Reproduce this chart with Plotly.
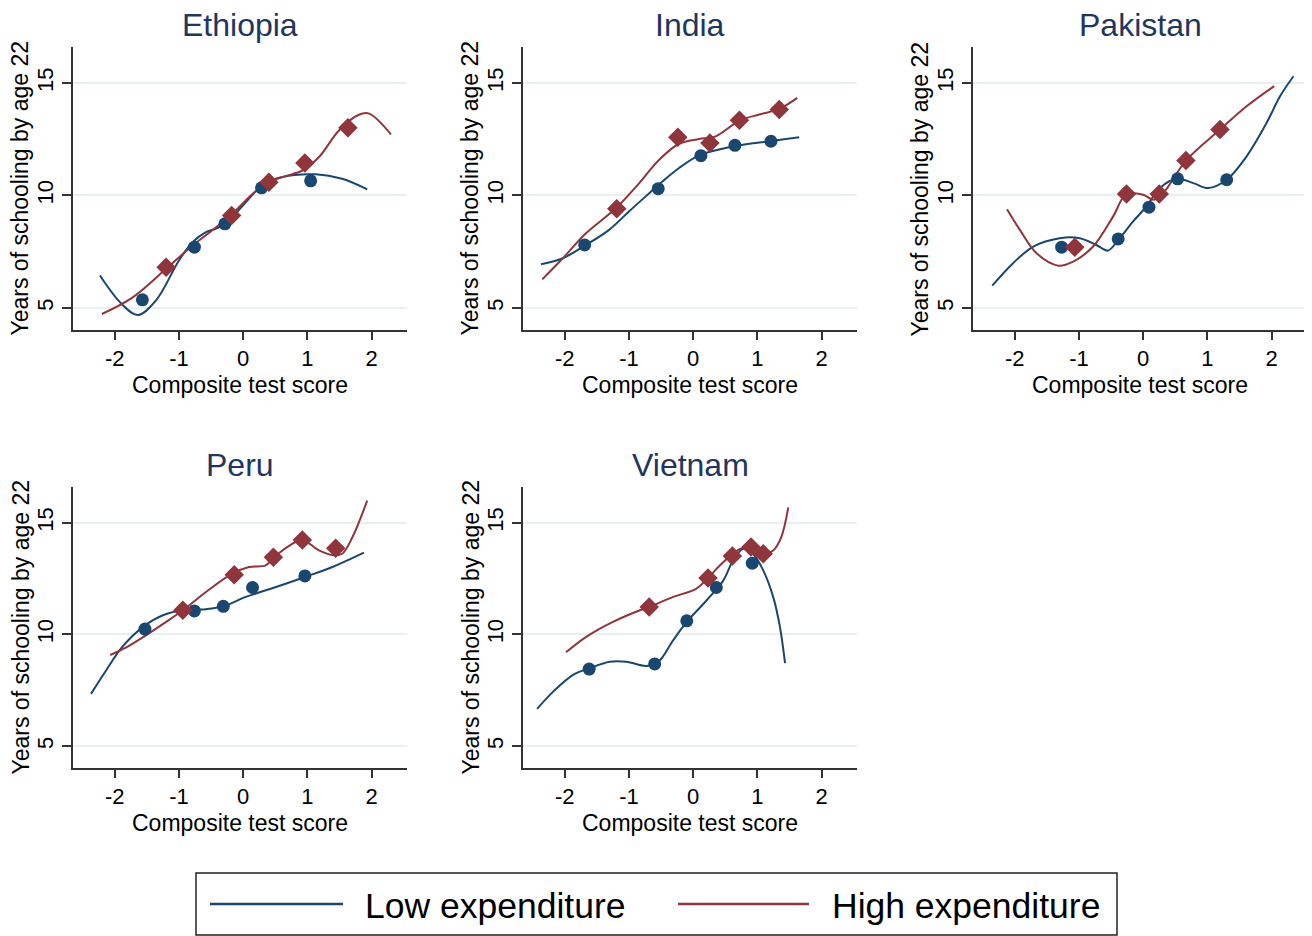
import plotly.graph_objects as go

# ---------------- data ----------------
countries = ["Ethiopia", "India", "Pakistan", "Peru", "Vietnam"]
series_names = ["Low expenditure", "High expenditure"]
x_ticks = [-2, -1, 0, 1, 2]
x_tick_labels = ["-2", "-1", "0", "1", "2"]
y_ticks = [5, 10, 15]
x_title = "Composite test score"
y_title = "Years of schooling by age 22"

# Ethiopia
eth_low_pts_x = [-1.57, -0.76, -0.285, 0.285, 1.05]
eth_low_pts_y = [5.36, 7.70, 8.74, 10.34, 10.65]
eth_high_pts_x = [-1.20, -0.18, 0.40, 0.96, 1.63]
eth_high_pts_y = [6.81, 9.11, 10.59, 11.44, 13.01]
eth_low_fit_x = [-2.23, -1.90, -1.64, -1.36, -1.00, -0.79, -0.58, -0.37, -0.17, 0.04, 0.30, 0.61, 1.13, 1.54, 1.93]
eth_low_fit_y = [6.44, 5.20, 4.69, 5.33, 7.11, 7.92, 8.37, 8.59, 9.03, 9.70, 10.45, 10.82, 10.94, 10.74, 10.27]
eth_high_fit_x = [-2.20, -1.72, -1.20, -0.79, -0.42, -0.17, 0.145, 0.40, 0.66, 0.92, 1.18, 1.49, 1.80, 1.96, 2.30]
eth_high_fit_y = [4.73, 5.47, 6.74, 7.77, 8.59, 9.18, 10.07, 10.60, 10.86, 11.11, 11.71, 12.89, 13.59, 13.64, 12.72]

# India
ind_low_pts_x = [-1.69, -0.545, 0.12, 0.65, 1.21]
ind_low_pts_y = [7.80, 10.30, 11.77, 12.23, 12.41]
ind_high_pts_x = [-1.19, -0.24, 0.26, 0.72, 1.34]
ind_high_pts_y = [9.41, 12.59, 12.33, 13.34, 13.82]
ind_low_fit_x = [-2.37, -2.03, -1.67, -1.31, -1.00, -0.74, -0.48, -0.22, 0.09, 0.40, 0.72, 1.18, 1.65]
ind_low_fit_y = [6.94, 7.21, 7.80, 8.47, 9.29, 9.96, 10.62, 11.22, 11.78, 12.04, 12.23, 12.41, 12.59]
ind_high_fit_x = [-2.35, -2.03, -1.67, -1.20, -0.84, -0.53, -0.22, 0.09, 0.35, 0.72, 1.03, 1.34, 1.62]
ind_high_fit_y = [6.27, 7.21, 8.32, 9.44, 10.55, 11.59, 12.30, 12.51, 12.63, 13.33, 13.60, 13.85, 14.34]

# Pakistan
pak_low_pts_x = [-1.27, -0.39, 0.09, 0.535, 1.30]
pak_low_pts_y = [7.70, 8.07, 9.48, 10.74, 10.70]
pak_high_pts_x = [-1.065, -0.26, 0.25, 0.665, 1.195]
pak_high_pts_y = [7.70, 10.07, 10.07, 11.55, 12.93]
pak_low_fit_x = [-2.35, -2.03, -1.71, -1.30, -0.99, -0.73, -0.55, -0.39, -0.16, 0.05, 0.26, 0.52, 0.78, 1.01, 1.30, 1.61, 1.92, 2.13, 2.34]
pak_low_fit_y = [5.99, 6.98, 7.73, 8.10, 8.10, 7.80, 7.55, 8.02, 8.84, 9.51, 10.33, 10.74, 10.55, 10.33, 10.70, 11.74, 13.22, 14.41, 15.30]
pak_high_fit_x = [-2.12, -1.92, -1.66, -1.32, -1.09, -0.78, -0.47, -0.26, 0.00, 0.16, 0.31, 0.665, 1.195, 1.61, 2.04]
pak_high_fit_y = [9.39, 8.47, 7.43, 6.88, 7.06, 7.73, 9.06, 10.07, 10.03, 9.81, 10.10, 11.55, 12.93, 13.97, 14.86]

# Peru
per_low_pts_x = [-1.53, -0.76, -0.31, 0.145, 0.96]
per_low_pts_y = [10.24, 11.05, 11.26, 12.10, 12.62]
per_high_pts_x = [-0.94, -0.14, 0.47, 0.92, 1.44]
per_high_pts_y = [11.08, 12.67, 13.46, 14.23, 13.86]
per_low_fit_x = [-2.37, -2.13, -1.88, -1.56, -1.25, -0.94, -0.58, -0.31, 0.04, 0.51, 0.96, 1.39, 1.88]
per_low_fit_y = [7.34, 8.41, 9.45, 10.34, 10.86, 11.08, 11.13, 11.26, 11.68, 12.12, 12.57, 13.02, 13.66]
per_high_fit_x = [-2.07, -1.82, -1.51, -1.20, -0.94, -0.58, -0.17, 0.09, 0.35, 0.47, 0.72, 0.92, 1.18, 1.41, 1.54, 1.70, 1.93]
per_high_fit_y = [9.08, 9.42, 9.97, 10.56, 11.08, 11.90, 12.72, 13.02, 13.09, 13.43, 13.98, 14.23, 13.76, 13.54, 13.61, 14.35, 15.99]

# Vietnam
vie_low_pts_x = [-1.62, -0.60, -0.10, 0.36, 0.92]
vie_low_pts_y = [8.45, 8.68, 10.61, 12.10, 13.19]
vie_high_pts_x = [-0.685, 0.23, 0.61, 0.90, 1.09]
vie_high_pts_y = [11.23, 12.53, 13.51, 13.91, 13.61]
vie_low_fit_x = [-2.43, -2.18, -1.87, -1.62, -1.30, -1.04, -0.73, -0.54, -0.31, -0.10, 0.21, 0.47, 0.62, 0.78, 0.93, 1.09, 1.245, 1.35, 1.43]
vie_low_fit_y = [6.67, 7.44, 8.19, 8.48, 8.78, 8.78, 8.59, 8.78, 9.75, 10.56, 11.53, 12.42, 13.31, 13.83, 13.61, 12.87, 11.68, 10.34, 8.71]
vie_high_fit_x = [-1.98, -1.66, -1.25, -0.83, -0.685, -0.31, 0.05, 0.23, 0.47, 0.73, 0.91, 1.09, 1.245, 1.37, 1.48]
vie_high_fit_y = [9.20, 9.90, 10.56, 11.08, 11.23, 11.68, 12.05, 12.53, 13.24, 13.83, 13.94, 13.61, 13.76, 14.35, 15.69]

panels = [
    (eth_low_pts_x, eth_low_pts_y, eth_high_pts_x, eth_high_pts_y, eth_low_fit_x, eth_low_fit_y, eth_high_fit_x, eth_high_fit_y),
    (ind_low_pts_x, ind_low_pts_y, ind_high_pts_x, ind_high_pts_y, ind_low_fit_x, ind_low_fit_y, ind_high_fit_x, ind_high_fit_y),
    (pak_low_pts_x, pak_low_pts_y, pak_high_pts_x, pak_high_pts_y, pak_low_fit_x, pak_low_fit_y, pak_high_fit_x, pak_high_fit_y),
    (per_low_pts_x, per_low_pts_y, per_high_pts_x, per_high_pts_y, per_low_fit_x, per_low_fit_y, per_high_fit_x, per_high_fit_y),
    (vie_low_pts_x, vie_low_pts_y, vie_high_pts_x, vie_high_pts_y, vie_low_fit_x, vie_low_fit_y, vie_high_fit_x, vie_high_fit_y),
]

# ---------------- styling ----------------
W, H = 1312, 936
OFF = 8  # page body margin
FONT = "Arial, Liberation Sans, sans-serif"
BLUE = "#1a476f"
RED = "#90353b"
TITLE_COL = "#1e3660"
GRID = "#e8f0f2"
AXIS = "#333333"
TICK_FS = 22
LABEL_FS = 23


def px(x):
    return (x - OFF) / W


def py(y):
    return 1 - (y - OFF) / H


# page-pixel boxes of each plot area (left, right) and (top, bottom)
col_px = [(73, 407), (523, 857), (973, 1307)]
row_px = [(47, 330), (487, 768)]

fig = go.Figure()
layout = dict(
    width=W, height=H,
    margin=dict(l=0, r=0, t=0, b=0),
    paper_bgcolor="white", plot_bgcolor="white",
    showlegend=False,
    font=dict(family=FONT, color="black", size=TICK_FS),
)
annotations = []
shapes = []

for i, name in enumerate(countries):
    r, c = divmod(i, 3)
    xl, xr = col_px[c]
    yt, yb = row_px[r]
    ax = "" if i == 0 else str(i + 1)
    layout["xaxis" + ax] = dict(
        domain=[px(xl), px(xr)], anchor="y" + ax, range=[-2.65, 2.55],
        tickvals=x_ticks, ticktext=x_tick_labels,
        showgrid=False, zeroline=False, showline=True, linecolor=AXIS, linewidth=1.5,
        ticks="outside", ticklen=8, tickwidth=1.5, tickcolor=AXIS,
        tickfont=dict(size=TICK_FS, color="black", family=FONT),
        fixedrange=True,
    )
    layout["yaxis" + ax] = dict(
        domain=[py(yb), py(yt)], anchor="x" + ax, range=[4.02, 16.6],
        tickvals=y_ticks, tickangle=-90,
        showgrid=True, gridcolor=GRID, gridwidth=1.5, zeroline=False,
        showline=True, linecolor=AXIS, linewidth=1.5,
        ticks="outside", ticklen=9, tickwidth=1.5, tickcolor=AXIS,
        tickfont=dict(size=TICK_FS, color="black", family=FONT),
        fixedrange=True,
    )
    # panel title
    annotations.append(dict(
        text=name, xref="paper", yref="paper",
        x=px((xl + xr) / 2), y=py(yt - 22),
        xanchor="center", yanchor="middle", showarrow=False,
        font=dict(size=32, color=TITLE_COL, family=FONT),
    ))
    # axis titles
    annotations.append(dict(
        text=x_title, xref="paper", yref="paper",
        x=px((xl + xr) / 2), y=py(yb + 55),
        xanchor="center", yanchor="middle", showarrow=False,
        font=dict(size=LABEL_FS, color="black", family=FONT),
    ))
    annotations.append(dict(
        text=y_title, xref="paper", yref="paper", textangle=-90,
        x=px(xl - 53), y=py((yt + yb) / 2),
        xanchor="center", yanchor="middle", showarrow=False,
        font=dict(size=LABEL_FS, color="black", family=FONT),
    ))

    lx, ly, hx, hy, lfx, lfy, hfx, hfy = panels[i]
    xa, ya = "x" + ax, "y" + ax
    fig.add_trace(go.Scatter(x=lfx, y=lfy, mode="lines", xaxis=xa, yaxis=ya,
                             line=dict(color=BLUE, width=2, shape="spline", smoothing=1.0),
                             name=series_names[0], hoverinfo="skip"))
    fig.add_trace(go.Scatter(x=hfx, y=hfy, mode="lines", xaxis=xa, yaxis=ya,
                             line=dict(color=RED, width=2, shape="spline", smoothing=1.0),
                             name=series_names[1], hoverinfo="skip"))
    fig.add_trace(go.Scatter(x=lx, y=ly, mode="markers", xaxis=xa, yaxis=ya,
                             marker=dict(color=BLUE, size=13, symbol="circle"),
                             name=series_names[0]))
    fig.add_trace(go.Scatter(x=hx, y=hy, mode="markers", xaxis=xa, yaxis=ya,
                             marker=dict(color=RED, size=15, symbol="diamond"),
                             name=series_names[1]))

# ---------------- legend box (drawn) ----------------
shapes.append(dict(type="rect", xref="paper", yref="paper",
                   x0=px(196), x1=px(1117), y0=py(935), y1=py(873),
                   line=dict(color="#222222", width=1.5), fillcolor="rgba(0,0,0,0)"))
legend_items = [(210, 343, 363, BLUE, series_names[0]), (678, 809, 830, RED, series_names[1])]
for x0, x1, tx, col, label in legend_items:
    shapes.append(dict(type="line", xref="paper", yref="paper",
                       x0=px(x0), x1=px(x1), y0=py(904), y1=py(904),
                       line=dict(color=col, width=2.5)))
    annotations.append(dict(text=label, xref="paper", yref="paper",
                            x=px(tx), y=py(906), xanchor="left", yanchor="middle",
                            showarrow=False, font=dict(size=35.5, color="black", family=FONT)))

layout["annotations"] = annotations
layout["shapes"] = shapes
fig.update_layout(**layout)
fig.write_html("out.html")
